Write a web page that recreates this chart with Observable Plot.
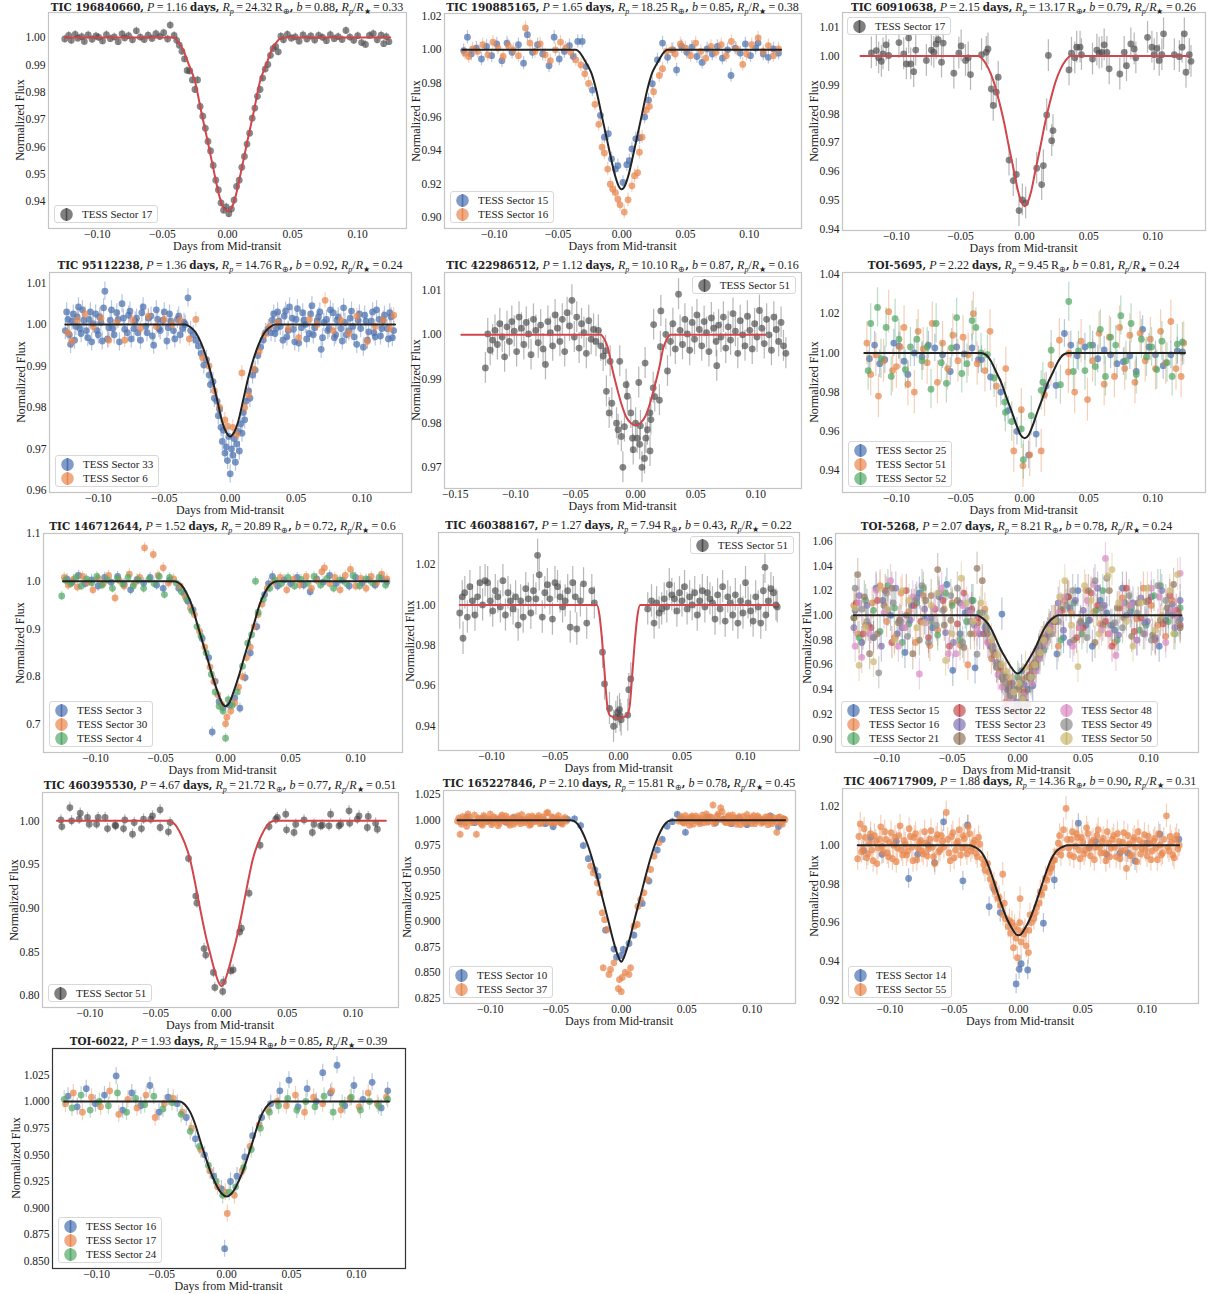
<!DOCTYPE html>
<html><head><meta charset="utf-8">
<script src="https://cdn.jsdelivr.net/npm/d3@7"></script>
<script src="https://cdn.jsdelivr.net/npm/@observablehq/plot@0.6"></script>
<style>
body{margin:0;background:#fff;}
#root{position:relative;width:1221px;height:1294px;overflow:hidden;font-family:"Liberation Serif","Times New Roman",serif;color:#222;background:#fff;}
.title{position:absolute;white-space:nowrap;font-size:12px;line-height:12px;transform:translateX(-50%);}
.title b{font-family:"DejaVu Serif";font-weight:bold;font-size:10.4px;}
.title i{font-style:italic;}
.title sub{font-size:8px;line-height:0;}
.xlab{position:absolute;white-space:nowrap;font-size:12px;transform:translate(-50%,-50%);}
.ylab{position:absolute;white-space:nowrap;font-size:12px;transform:translate(-50%,-50%) rotate(-90deg);}
.legend{position:absolute;background:rgba(255,255,255,0.85);border:1px solid #d8d8d8;border-radius:3px;padding:1px 5px 1px 5px;font-size:11px;}
.legend .grid{display:grid;grid-auto-flow:column;column-gap:14px;}
.legend .row{display:flex;align-items:center;height:14px;white-space:nowrap;}
.legend svg{margin-right:9px;}
</style></head>
<body><div id="root"></div>
<script>
// ---------- titles ----------
const names   = ["TIC 196840660","TIC 190885165","TIC 60910638","TIC 95112238","TIC 422986512","TOI-5695","TIC 146712644","TIC 460388167","TOI-5268","TIC 460395530","TIC 165227846","TIC 406717909","TOI-6022"];
const periods = ["1.16","1.65","2.15","1.36","1.12","2.22","1.52","1.27","2.07","4.67","2.10","1.88","1.93"];
const radii   = ["24.32","18.25","13.17","14.76","10.10","9.45","20.89","7.94","8.21","21.72","15.81","14.36","15.94"];
const impacts = ["0.88","0.85","0.79","0.92","0.87","0.81","0.72","0.43","0.78","0.77","0.78","0.90","0.85"];
const ratios  = ["0.33","0.38","0.26","0.24","0.16","0.24","0.6","0.22","0.24","0.51","0.45","0.31","0.39"];
const xTicks  = [-0.10,-0.05,0.00,0.05,0.10];
const xTicksWide = [-0.15,-0.10,-0.05,0.00,0.05,0.10];

// ---------- panel 1 : TIC 196840660 ----------
const p1_model=[[-.125,1],[-.042,1],[-.038,.9985],[-.034,.9955],[-.030,.9905],[-.025,.984],[-.020,.9725],[-.015,.9615],[-.010,.950],[-.006,.9415],[-.003,.9375],[0,.9365],[.003,.9375],[.006,.9415],[.010,.950],[.015,.9615],[.020,.9725],[.025,.984],[.030,.9905],[.034,.9955],[.038,.9985],[.042,1],[.125,1]];
const p1_s17=[[-.125,.9995],[-.122,1.0008],[-.120,.9990],[-.117,1.0012],[-.115,.9998],[-.112,1.0004],[-.110,.9986],[-.107,1.0010],[-.104,.9994],[-.101,1.0006],[-.099,1.0001],[-.096,.9988],[-.093,1.0011],[-.090,.9996],[-.087,1.0003],[-.084,.9985],[-.081,1.0014],[-.079,.9999],[-.076,1.0007],[-.073,.9992],[-.070,1.0025],[-.067,1.0002],[-.064,.9993],[-.061,1.0009],[-.058,.9997],[-.055,1.0015],[-.052,1.0004],[-.049,1.0018],[-.046,.9995],[-.044,1.0046],[-.041,1.0008],
[-.039,.9990],[-.037,.9972],[-.035,.9950],[-.033,.9922],[-.031,.9880],[-.029,.9878],[-.027,.9845],[-.025,.9810],[-.023,.9845],[-.021,.9748],[-.019,.9712],[-.017,.9668],[-.015,.9620],[-.013,.9585],[-.011,.9532],[-.009,.9478],[-.007,.9442],[-.005,.9395],[-.003,.9368],[-.001,.9380],[.001,.9355],[.003,.9372],[.005,.9405],[.007,.9455],[.009,.9478],[.011,.9525],[.013,.9565],[.015,.9610],[.017,.9650],[.019,.9705],[.021,.9742],[.023,.9785],[.025,.9810],[.027,.9852],[.029,.9885],[.031,.9902],[.033,.9935],[.035,.9960],[.037,.9968],[.039,.9948],
[.041,1.0005],[.043,.9992],[.046,1.0012],[.049,.9998],[.052,1.0003],[.055,.9987],[.058,1.0010],[.061,.9995],[.064,1.0006],[.067,.9991],[.070,1.0008],[.073,1.0001],[.076,.9989],[.079,1.0011],[.082,.9996],[.085,1.0004],[.088,.9993],[.091,1.0026],[.094,1.0002],[.097,.9990],[.100,1.0007],[.103,.9982],[.106,.9975],[.109,1.0008],[.112,1.0015],[.115,.9992],[.118,1.0009],[.120,.9978],[.122,1.0004],[.124,.9985]];

// ---------- panel 2 : TIC 190885165 ----------
const p2_model=[[-.125,1],[-.036,1],[-.033,.9985],[-.030,.995],[-.027,.991],[-.024,.9865],[-.020,.976],[-.016,.962],[-.012,.948],[-.008,.934],[-.005,.9245],[-.0025,.919],[0,.917],[.0025,.919],[.005,.9245],[.008,.934],[.012,.948],[.016,.962],[.020,.976],[.024,.9865],[.027,.991],[.030,.995],[.033,.9985],[.036,1],[.125,1]];
const p2_s15=[[-.124,.9995],[-.121,1.0075],[-.118,.9975],[-.114,1.0010],[-.110,.9945],[-.106,1.0020],[-.102,.9965],[-.098,1.0035],[-.094,.9935],[-.090,1.0040],[-.086,.9985],[-.081,1.0030],[-.077,.9920],[-.074,1.0090],[-.070,.9985],[-.066,1.0030],[-.062,.9975],[-.057,.9905],[-.053,1.0075],[-.049,.9945],[-.045,.9990],[-.041,1.0025],[-.038,.9960],[-.0345,1.0050],[-.031,1.0050],[-.028,.9900],
[-.023,.9760],[-.0167,.9610],[-.0136,.9480],[-.0105,.9500],[-.008,.9350],[-.005,.9290],[-.003,.9310],[.001,.9210],[.004,.9316],[.006,.9340],[.008,.9410],[.011,.9470],[.014,.9476],[.018,.9600],[.021,.9700],[.024,.9798],[.028,.9940],[.032,1.0040],
[.036,.9955],[.040,1.0000],[.043,.9880],[.047,1.0020],[.051,.9985],[.055,1.0015],[.059,.9960],[.063,.9925],[.067,1.0005],[.071,.9975],[.075,1.0020],[.079,.9950],[.083,1.0000],[.0857,.9847],[.089,1.0010],[.093,.9980],[.097,1.0035],[.101,.9965],[.105,1.0010],[.107,1.0040],[.111,.9975],[.115,.9955],[.119,1.0005],[.123,.9980]];
const p2_s16=[[-.123,.9980],[-.120,.9960],[-.117,1.0005],[-.113,.9990],[-.109,1.0030],[-.105,.9970],[-.101,1.0045],[-.097,1.0010],[-.093,.9960],[-.089,1.0025],[-.085,1.0000],[-.081,.9965],[-.0755,1.0130],[-.072,1.0040],[-.068,.9990],[-.064,1.0035],[-.060,.9970],[-.056,.9935],[-.052,1.0000],[-.048,1.0045],[-.044,1.0010],[-.040,.9985],[-.036,.9940],
[-.032,.9910],[-.029,.9857],[-.026,.9800],[-.021,.9675],[-.018,.9556],[-.0154,.9420],[-.0136,.9385],[-.011,.9290],[-.009,.9200],[-.007,.9170],[-.005,.9150],[-.003,.9110],[-.0013,.9077],[.002,.9034],[.005,.9107],[.008,.9190],[.010,.9250],[.0125,.9268],[.0139,.9390],[.016,.9480],[.019,.9640],[.0217,.9663],[.025,.9750],[.0295,.9847],[.032,.9887],
[.035,.9990],[.039,1.0000],[.042,.9975],[.046,1.0035],[.050,1.0010],[.054,.9965],[.058,1.0040],[.062,.9990],[.066,.9950],[.070,1.0020],[.074,.9985],[.078,1.0030],[.082,.9965],[.086,1.0050],[.090,1.0005],[.0949,.9913],[.098,.9975],[.102,1.0030],[.107,1.0070],[.111,.9990],[.115,1.0025],[.119,.9965],[.123,1.0005]];

// ---------- panel 3 : TIC 60910638 ----------
const p3_model=[[-.128,1],[-.036,1],[-.032,.9985],[-.028,.9955],[-.024,.991],[-.020,.9845],[-.016,.977],[-.012,.968],[-.008,.9595],[-.005,.953],[-.002,.949],[0,.948],[.002,.949],[.005,.953],[.008,.9595],[.012,.968],[.016,.977],[.020,.9845],[.024,.991],[.028,.9955],[.032,.9985],[.036,1],[.128,1]];
const p3_s17=[[-.1195,1.0011],[-.1156,1.0019],[-.1138,.9994],[-.1117,.9982],[-.1104,1.0008],[-.108,1.0039],[-.106,1.0002],[-.098,1.0047],[-.0943,1.0008],[-.0922,.9973],[-.0904,1.0063],[-.0888,.9973],[-.0865,.9946],[-.0849,1.0021],[-.0766,.9985],[-.0727,1.0021],[-.0708,1.0013],[-.069,1.0042],[-.0674,1.0057],[-.0648,.9979],[-.0635,1.0045],[-.0552,.9941],[-.0513,1.001],[-.0495,1.0035],[-.0461,.9985],[-.044,.9994],[-.0422,.9936],[-.0336,1.0005],[-.0299,1.0013],[-.0286,1.0025],[-.026,.9886],[-.0245,.9829],[-.0221,.9875],[-.0206,.9927],[-.0122,.964],[-.0089,.9569],[-.0065,.959],[-.0044,.9465],[-.0018,.9502],[.0008,.9492],[.0094,.9612],[.0133,.9555],[.0146,.9621],[.0172,.9796],[.0185,1.0002],[.0211,.9707],[.0221,.9742],[.0346,.9952],[.0365,1.001],[.0391,.9994],[.0406,1.0031],[.0432,1.0031],[.0443,1.0005],[.0529,.999],[.0563,1.0021],[.0581,1.001],[.0602,1.0013],[.062,1.0039],[.0641,1.0013],[.0659,.9956],[.0742,.9938],[.0776,1.0013],[.0794,.9967],[.0828,1.0042],[.0854,1.0025],[.0867,.9994],[.0958,1.0065],[.0992,1.0031],[.101,1.0005],[.1031,1.0027],[.1049,.9985],[.107,1.0005],[.1083,1.0077],[.1167,1.0005],[.1206,.9998],[.1227,1.0031],[.1245,1.0077],[.1258,.9944],[.1284,1.0005],[.1297,.9982]];

// ---------- panel 4 : TIC 95112238 ----------
const p4_model=[[-.125,1],[-.034,1],[-.030,.9993],[-.026,.998],[-.022,.9955],[-.018,.992],[-.014,.9875],[-.010,.982],[-.006,.9765],[-.003,.974],[0,.973],[.003,.974],[.006,.9765],[.010,.982],[.014,.9875],[.018,.992],[.022,.9955],[.026,.998],[.030,.9993],[.034,1],[.125,1]];
const p4_s33=[[-.125,.9985],[-.123,1.0012],[-.121,.9952],[-.119,1.0025],[-.117,.9995],[-.115,1.0042],[-.113,.9978],[-.111,1.0010],[-.108,.9968],[-.106,1.0030],[-.104,1.0002],[-.101,.9985],[-.099,1.0018],[-.097,.9960],[-.095,1.0080],[-.092,.9992],[-.090,1.0035],[-.088,.9975],[-.085,1.0012],[-.082,1.0050],[-.080,.9988],[-.077,1.0022],[-.075,.9965],[-.072,1.0008],[-.070,.9980],[-.067,1.0028],[-.064,.9995],[-.062,1.0015],[-.059,.9972],[-.056,1.0035],[-.054,.9990],[-.051,1.0010],[-.048,.9960],[-.046,1.0025],[-.043,.9985],[-.040,1.0012],[-.038,.9975],[-.035,1.0005],[-.032,1.0064],
[-.124,1.0030],[-.122,.9975],[-.120,1.0008],[-.118,.9962],[-.116,1.0018],[-.114,.9990],[-.112,1.0035],[-.109,.9985],[-.107,1.0012],[-.105,.9958],[-.102,1.0025],[-.100,.9975],[-.098,1.0005],[-.096,1.0040],[-.093,.9965],[-.091,1.0010],[-.089,.9990],[-.086,1.0028],[-.084,.9958],[-.081,1.0015],[-.078,.9980],[-.076,1.0032],[-.073,.9990],[-.071,1.0015],[-.068,.9962],[-.066,1.0042],[-.063,.9980],[-.060,1.0020],[-.058,.9950],[-.055,1.0012],[-.053,.9985],[-.050,1.0030],[-.047,.9992],[-.045,1.0008],[-.042,.9965],[-.039,1.0020],[-.036,.9990],[-.034,1.0000],
[-.030,.9985],[-.028,.9975],[-.026,.9962],[-.024,.9948],[-.022,.9930],[-.020,.9902],[-.018,.9915],[-.016,.9878],[-.015,.9855],[-.013,.9862],[-.012,.9822],[-.010,.9815],[-.009,.9780],[-.008,.9795],[-.007,.9752],[-.006,.9718],[-.005,.9745],[-.004,.9690],[-.003,.9705],[-.002,.9672],[-.001,.9730],[0,.9640],[.001,.9700],[.002,.9685],[.003,.9725],[.004,.9668],[.005,.9712],[.006,.9742],[.007,.9695],[.008,.9760],[.009,.9738],[.010,.9788],[.011,.9770],[.012,.9815],[.014,.9840],[.015,.9822],[.017,.9878],[.019,.9890],[.021,.9925],[.023,.9945],[.025,.9962],[.027,.9980],[.029,.9990],
[.032,1.0010],[.034,.9978],[.036,1.0030],[.038,.9995],[.041,1.0020],[.043,.9970],[.045,1.0042],[.048,.9988],[.050,1.0012],[.052,.9955],[.055,1.0028],[.057,1.0000],[.060,.9978],[.062,1.0045],[.064,.9992],[.067,1.0018],[.069,.9940],[.071,1.0005],[.074,.9985],[.076,1.0035],[.079,.9968],[.081,1.0010],[.084,.9990],[.086,1.0040],[.088,.9975],[.091,1.0015],[.093,.9995],[.096,.9952],[.098,1.0025],[.101,.9945],[.103,1.0008],[.105,.9982],[.108,1.0030],[.110,.9970],[.113,1.0012],[.115,.9990],[.117,1.0022],[.120,.9965],[.122,1.0018],[.124,.9985],
[.031,.9980],[.033,1.0025],[.035,.9990],[.037,1.0008],[.040,.9962],[.042,1.0032],[.044,.9985],[.047,1.0015],[.049,.9958],[.051,1.0038],[.054,.9992],[.056,1.0010],[.058,.9965],[.061,1.0025],[.063,.9975],[.066,1.0008],[.068,1.0030],[.070,.9968],[.073,1.0012],[.075,.9990],[.078,1.0028],[.080,.9975],[.082,1.0018],[.085,.9960],[.087,1.0005],[.090,.9985],[.092,1.0032],[.094,.9970],[.097,1.0010],[.099,.9990],[.102,1.0022],[.104,.9962],[.107,1.0008],[.109,.9980],[.111,1.0035],[.114,.9972],[.116,1.0010],[.119,.9990],[.121,1.0028],[.123,.9968]];
const p4_s6=[[-.123,.9980],[-.120,.9960],[-.116,1.0010],[-.110,1.0025],[-.104,.9995],[-.098,1.0015],[-.092,.9962],[-.086,1.0005],[-.080,.9962],[-.074,1.0010],[-.068,.9990],[-.062,1.0020],[-.056,.9995],[-.050,1.0012],[-.044,1.0000],[-.038,1.0010],[-.031,.9965],[-.026,1.0012],[-.021,.9920],[-.016,.9900],[-.012,.9840],[-.008,.9800],[-.004,.9770],[-.002,.9755],[.002,.9752],[.005,.9735],[.0089,.9883],[.011,.9800],[.014,.9830],[.018,.9892],[.022,.9935],[.026,.9975],[.030,.9995],[.036,1.0005],[.044,.9990],[.052,.9968],[.060,1.0012],[.066,1.0000],[.072,1.0058],[.078,.9985],[.084,1.0010],[.090,.9978],[.096,1.0020],[.104,.9959],[.110,.9995],[.116,1.0010],[.121,.9990],[.124,1.0022]];

// ---------- panel 5 : TIC 422986512 ----------
const p5_model=[[-.145,1],[-.029,1],[-.026,.999],[-.023,.997],[-.020,.993],[-.016,.9885],[-.012,.9845],[-.008,.9815],[-.004,.980],[0,.9795],[.004,.980],[.008,.9815],[.012,.9845],[.016,.9885],[.020,.993],[.023,.997],[.026,.999],[.029,1],[.108,1]];
const p5_s51=[[-.125,.9925],[-.123,1.0002],[-.121,.9965],[-.119,.9988],[-.117,1.0010],[-.115,.9978],[-.113,1.0025],[-.111,.9995],[-.109,.9950],[-.107,1.0018],[-.105,.9985],[-.103,1.0030],[-.101,1.0008],[-.099,.9962],[-.097,1.0040],[-.095,1.0015],[-.093,.9978],[-.091,1.0028],[-.089,1.0002],[-.087,.9955],[-.085,1.0035],[-.083,1.0010],[-.081,.9982],[-.079,1.0022],[-.077,.9968],[-.075,.9933],[-.073,1.0030],[-.071,1.0005],[-.069,.9975],[-.067,1.0045],[-.065,1.0015],[-.063,.9985],[-.061,1.0035],[-.059,.9962],[-.057,1.0050],[-.055,1.0020],[-.053,1.0078],[-.051,.9995],[-.049,1.0040],[-.047,.9970],[-.045,1.0025],[-.043,1.0005],[-.041,.9958],[-.039,1.0032],[-.037,.9990],[-.035,1.0012],[-.033,.9985],[-.031,1.0010],[-.029,.9975],[-.027,.9952],[-.025,.9964],
[-.0243,.9872],[-.022,.9823],[-.0212,.9940],[-.0198,.9845],[-.0159,.9800],[-.0146,.9785],[-.0132,.9940],[-.0119,.9770],[-.0106,.9700],[-.0093,.9792],[-.0079,.9887],[-.0069,.9861],[-.004,.9823],[-.0026,.9766],[-.002,.9740],[0,.9800],[.0013,.9766],[.0026,.9892],[.0034,.9752],[.004,.9794],[.0053,.9700],[.0074,.9720],[.0079,.9936],[.0085,.9766],[.0098,.9785],[.0119,.9823],[.012,.9737],[.0127,.9808],[.0146,.9880],[.0150,1.0023],[.0159,.9860],[.0198,.9852],[.0206,.9973],[.0210,1.0054],[.0251,1.0001],[.0265,.9918],
[.029,.9985],[.031,1.0025],[.033,.9968],[.0357,1.0092],[.037,1.0010],[.039,.9978],[.041,1.0035],[.043,1.0002],[.045,.9965],[.047,1.0028],[.049,.9990],[.051,1.0045],[.053,1.0012],[.055,.9975],[.057,1.0030],[.059,1.0005],[.061,.9962],[.063,1.0038],[.065,1.0015],[.067,.9985],[.0675,.9930],[.069,1.0022],[.071,.9995],[.073,1.0040],[.075,.9970],[.077,1.0018],[.079,.9988],[.081,1.0048],[.083,1.0008],[.085,.9958],[.087,1.0032],[.089,1.0000],[.091,.9975],[.093,1.0042],[.095,1.0010],[.097,.9968],[.099,1.0025],[.101,.9995],[.103,1.0055],[.105,1.0015],[.107,.9980],[.109,1.0035],[.111,1.0000],[.113,.9965],[.115,1.0040],[.117,1.0012],[.119,.9985],[.121,1.0028],[.123,.9975],[.125,.9958]];

// ---------- panel 6 : TOI-5695 ----------
const p6_model=[[-.125,1],[-.034,1],[-.030,.999],[-.026,.9955],[-.022,.990],[-.018,.9845],[-.014,.977],[-.010,.970],[-.006,.9625],[-.003,.958],[0,.9565],[.003,.958],[.006,.9625],[.010,.970],[.014,.977],[.018,.9845],[.022,.990],[.026,.9955],[.030,.999],[.034,1],[.125,1]];
const p6_s25=[[-.121,.9970],[-.117,1.0040],[-.113,.9945],[-.109,.9965],[-.102,1.0050],[-.098,1.0035],[-.094,.9958],[-.091,.9890],[-.086,1.0000],[-.080,.9980],[-.075,1.0040],[-.070,1.0025],[-.064,.9990],[-.058,.9905],[-.053,1.0030],[-.047,.9995],[-.041,1.0025],[-.036,.9965],[-.0336,.9966],[-.0266,.9877],[-.0186,.9800],[-.0129,.9706],[-.006,.9600],[.0031,.9479],[.009,.9586],[.0168,.9831],[.0245,.9834],[.031,1.0099],[.036,1.0040],[.041,.9985],[.047,1.0030],[.053,1.0040],[.057,.9970],[.062,1.0015],[.067,.9990],[.072,.9945],[.077,.9955],[.082,.9985],[.087,.9905],[.092,1.0120],[.097,1.0030],[.102,.9990],[.108,.9935],[.114,.9990],[.119,1.0010],[.123,1.0005]];
const p6_s51=[[-.123,1.0050],[-.120,.9890],[-.116,.9990],[-.114,.9780],[-.110,.9960],[-.106,1.0210],[-.103,.9910],[-.100,.9930],[-.097,1.0030],[-.094,1.0130],[-.091,.9840],[-.086,.9800],[-.083,1.0110],[-.079,1.0020],[-.076,.9950],[-.072,1.0150],[-.068,.9850],[-.064,1.0050],[-.060,.9920],[-.056,1.0090],[-.052,.9960],[-.048,1.0080],[-.044,.9990],[-.040,1.0200],[-.037,.9945],[-.031,.9910],[-.027,1.0110],[-.022,.9830],[-.0147,.9920],[-.0085,.9500],[-.0026,.9710],[-.0013,.9424],[.004,.9480],[.0129,.9500],[.0155,.9786],[.0205,.9940],[.0271,1.0065],[.0341,.9903],[.0345,.9997],[.039,.9800],[.044,1.0060],[.049,.9762],[.053,.9960],[.058,1.0100],[.062,.9840],[.066,1.0080],[.070,.9880],[.074,1.0130],[.078,.9920],[.082,1.0090],[.086,.9850],[.090,1.0100],[.094,.9960],[.098,1.0070],[.102,.9920],[.106,1.0110],[.110,.9950],[.114,1.0160],[.118,.9920],[.122,.9880],[.124,1.0050]];
const p6_s52=[[-.122,.9910],[-.120,1.0150],[-.1147,1.0232],[-.112,.9970],[-.108,1.0130],[-.104,.9880],[-.101,1.0175],[-.098,1.0070],[-.093,.9915],[-.089,1.0030],[-.084,1.0070],[-.080,.9960],[-.076,1.0030],[-.073,.9815],[-.069,1.0150],[-.065,.9950],[-.061,.9845],[-.057,1.0025],[-.053,1.0180],[-.049,.9895],[-.045,.9945],[-.041,1.0165],[-.038,1.0130],[-.034,1.0000],[-.029,.9991],[-.0238,.9872],[-.0155,.9749],[-.0150,.9697],[-.010,.9650],[-.0026,.9612],[-.001,.9455],[.0052,.9680],[.0129,.9809],[.0142,.9851],[.0207,1.0014],[.0279,.9838],[.0344,1.0262],[.038,.9905],[.042,1.0010],[.047,.9910],[.051,1.0040],[.055,.9930],[.059,1.0120],[.063,.9880],[.067,1.0080],[.071,1.0040],[.075,1.0190],[.079,.9960],[.083,1.0150],[.087,.9890],[.091,1.0070],[.095,.9980],[.099,1.0030],[.103,.9915],[.107,1.0060],[.111,.9950],[.115,.9880],[.119,1.0045],[.123,1.0055]];

// ---------- panel 7 : TIC 146712644 ----------
const p7_model=[[-.125,1],[-.040,1],[-.037,.998],[-.034,.992],[-.030,.975],[-.026,.950],[-.022,.912],[-.018,.875],[-.014,.838],[-.010,.800],[-.006,.767],[-.003,.746],[0,.738],[.003,.746],[.006,.767],[.010,.800],[.014,.838],[.018,.875],[.022,.912],[.026,.950],[.030,.975],[.034,.992],[.037,.998],[.040,1],[.125,1]];
const p7_s3=[[-.122,1.005],[-.118,.998],[-.113,1.012],[-.108,.995],[-.103,1.003],[-.098,.990],[-.093,1.008],[-.088,.998],[-.083,1.010],[-.078,.994],[-.073,.982],[-.068,1.004],[-.063,.996],[-.058,1.008],[-.053,.992],[-.048,.985],[-.043,1.002],[-.036,.985],[-.032,.975],[-.029,.958],[-.025,.940],[-.018,.880],[-.013,.840],[-.0103,.684],[-.008,.790],[-.005,.748],[-.002,.735],[.003,.740],[.007,.755],[.011,.734],[.015,.798],[.019,.850],[.024,.905],[.030,.972],[.033,.995],[.036,1.010],[.040,.990],[.045,1.003],[.050,.995],[.055,1.008],[.060,.992],[.065,.978],[.070,1.005],[.075,.998],[.080,1.012],[.085,.995],[.090,1.002],[.095,.990],[.100,1.008],[.105,.996],[.110,1.004],[.115,.992],[.120,1.006],[.124,.999]];
const p7_s30=[[-.124,1.008],[-.121,.992],[-.117,1.004],[-.114,.988],[-.110,1.010],[-.106,.998],[-.102,.982],[-.098,1.006],[-.094,.995],[-.090,1.012],[-.085,.965],[-.082,1.002],[-.078,.990],[-.074,1.015],[-.070,.996],[-.066,1.008],[-.0623,1.070],[-.0556,1.056],[-.052,1.012],[-.048,1.028],[-.044,.996],[-.040,1.005],[-.035,.990],[-.031,.968],[-.027,.944],[-.024,.930],[-.020,.895],[-.016,.862],[-.012,.820],[-.009,.790],[-.006,.762],[-.003,.742],[0,.701],[.001,.715],[.004,.728],[.007,.745],[.010,.778],[.013,.800],[.016,.840],[.019,.862],[.022,.905],[.025,.930],[.028,.952],[.032,.985],[.037,.998],[.042,1.008],[.047,.982],[.052,1.004],[.057,.992],[.062,1.010],[.066,.985],[.070,1.002],[.074,1.020],[.076,1.028],[.080,.995],[.084,1.008],[.088,.982],[.092,1.012],[.096,1.025],[.100,.990],[.104,1.006],[.108,.985],[.112,1.010],[.116,.996],[.120,1.015],[.124,1.005]];
const p7_s4=[[-.126,.969],[-.123,1.002],[-.119,.995],[-.115,1.008],[-.111,.990],[-.107,1.005],[-.103,.997],[-.099,1.010],[-.095,.992],[-.091,1.003],[-.087,.985],[-.083,1.006],[-.079,.994],[-.075,1.008],[-.071,.990],[-.067,1.002],[-.063,.985],[-.059,1.004],[-.055,.995],[-.051,1.010],[-.047,.972],[-.043,1.008],[-.038,.996],[-.034,.978],[-.030,.962],[-.026,.938],[-.022,.905],[-.019,.885],[-.015,.850],[-.011,.805],[-.008,.768],[-.005,.738],[-.002,.728],[0,.671],[.002,.752],[.005,.740],[.009,.768],[.013,.822],[.017,.870],[.020,.888],[.023,1.000],[.025,.935],[.029,.962],[.034,.985],[.038,1.002],[.043,.995],[.048,1.008],[.053,.990],[.058,1.004],[.063,.996],[.068,1.010],[.073,.992],[.078,1.006],[.083,.985],[.088,1.003],[.093,.995],[.098,1.012],[.103,.990],[.108,1.005],[.113,.996],[.118,1.008],[.123,.992]];

// ---------- panel 8 : TIC 460388167 ----------
const p8_model=[[-.125,1],[-.017,1],[-.015,.995],[-.013,.983],[-.011,.967],[-.009,.951],[-.007,.9455],[-.004,.9445],[0,.944],[.004,.9445],[.007,.9455],[.009,.951],[.011,.967],[.013,.983],[.015,.995],[.017,1],[.125,1]];
const p8_s51=[[-.125,.996],[-.123,1.004],[-.121,1.006],[-.1224,.9835],[-.119,.994],[-.117,1.009],[-.115,1.002],[-.113,.995],[-.111,1.004],[-.109,1.011],[-.107,1.000],[-.105,1.012],[-.103,1.011],[-.101,1.002],[-.099,.997],[-.097,1.007],[-.095,1.004],[-.093,.999],[-.091,1.012],[-.089,.995],[-.087,1.006],[-.085,1.002],[-.083,.998],[-.081,1.004],[-.079,.990],[-.077,1.002],[-.075,.994],[-.073,1.008],[-.071,1.003],[-.069,.996],[-.067,1.007],[-.065,1.003],[-.0637,1.0245],[-.0624,1.0149],[-.060,.994],[-.058,1.006],[-.056,1.010],[-.054,1.003],[-.052,.993],[-.050,1.011],[-.048,1.009],[-.046,1.004],[-.044,.999],[-.042,1.002],[-.040,1.007],[-.038,.989],[-.036,1.011],[-.034,1.004],[-.0328,.9881],[-.030,1.002],[-.0275,1.0104],[-.025,.991],[-.021,1.007],[-.019,1.001],
[-.0126,.9766],[-.011,.9609],[-.0071,.9488],[-.0039,.9400],[-.0021,.9444],[-.0008,.9469],[.0008,.9482],[.0013,.9452],[.0021,.9432],[.0073,.9455],[.0081,.9581],[.0097,.9634],
[.023,.998],[.026,1.002],[.028,.991],[.030,1.001],[.032,.996],[.034,.998],[.036,1.003],[.038,.999],[.040,1.010],[.042,1.005],[.044,1.003],[.046,.997],[.048,1.006],[.050,1.002],[.052,1.009],[.054,.998],[.056,1.004],[.058,1.000],[.060,1.006],[.062,.995],[.064,1.002],[.066,1.007],[.068,.999],[.070,1.006],[.072,1.003],[.074,1.001],[.076,.993],[.078,1.005],[.080,.998],[.082,1.009],[.084,.992],[.086,1.004],[.088,1.001],[.090,.995],[.092,1.005],[.094,.991],[.096,1.002],[.098,.996],[.100,1.011],[.102,1.001],[.104,.997],[.106,.992],[.108,1.004],[.110,.999],[.112,.991],[.1153,1.0186],[.114,1.007],[.116,.995],[.118,1.002],[.120,1.008],[.122,1.006],[.124,1.000],[.125,.999]];

// ---------- panel 9 : TOI-5268 ----------
const p9_model=[[-.125,1],[-.031,1],[-.028,.9985],[-.025,.996],[-.021,.9905],[-.017,.982],[-.013,.9725],[-.009,.965],[-.005,.958],[-.002,.954],[0,.953],[.002,.954],[.005,.958],[.009,.965],[.013,.9725],[.017,.982],[.021,.9905],[.025,.996],[.028,.9985],[.031,1],[.125,1]];
const p9_s15=[[-.124,1.004],[-.114,.992],[-.103,1.012],[-.092,.985],[-.081,1.008],[-.071,.997],[-.060,1.015],[-.0495,.9555],[-.040,1.002],[-.0325,.9575],[-.024,.988],[-.012,1.001],[-.010,.925],[-.004,.945],[.003,.955],[.008,.940],[.0115,.943],[.022,.982],[.030,.9688],[.040,1.006],[.052,.992],[.063,1.012],[.074,.988],[.086,1.003],[.097,.994],[.108,.975],[.118,1.009],[.124,.997],
[-.119,.978],[-.108,1.022],[-.097,1.000],[-.086,.970],[-.075,1.018],[-.065,.990],[-.054,1.025],[-.044,.985],[-.035,1.012],[-.018,.970],[-.006,.938],[.006,.930],[.016,.965],[.035,.982],[.046,1.020],[.057,.975],[.068,1.002],[.080,1.022],[.091,.980],[.102,1.015],[.113,.996]];
const p9_s16=[[-.122,.985],[-.111,1.010],[-.100,.995],[-.089,1.018],[-.078,.978],[-.067,.9755],[-.056,1.005],[-.044,.976],[-.038,.960],[-.030,.994],[-.020,.965],[-.013,.955],[-.006,.935],[-.002,.922],[.004,.948],[.010,.958],[.018,.978],[.027,.995],[.036,1.012],[.047,.990],[.058,1.003],[.069,.985],[.080,1.014],[.091,.997],[.102,1.008],[.113,.983],[.123,1.002],
[-.125,1.008],[-.116,.992],[-.105,1.024],[-.094,.982],[-.083,1.003],[-.072,1.016],[-.061,.988],[-.050,1.010],[-.033,.985],[-.025,1.005],[-.016,.958],[-.009,.930],[.001,.940],[.007,.925],[.014,.962],[.023,.985],[.031,.975],[.041,1.002],[.052,1.020],[.063,.993],[.074,.978],[.085,1.008],[.096,1.022],[.107,.992],[.118,1.012]];
const p9_s21=[[-.125,.998],[-.116,1.012],[-.105,.987],[-.094,1.006],[-.083,.993],[-.072,1.022],[-.061,.984],[-.050,1.008],[-.039,.995],[-.029,1.002],[-.021,.975],[-.014,.960],[-.007,.942],[0,.950],[.006,.938],[.013,.962],[.020,.972],[.029,.998],[.038,1.015],[.049,.985],[.060,1.004],[.071,.992],[.082,1.010],[.093,.988],[.104,1.016],[.115,.995],[.124,1.006],
[-.121,.982],[-.110,1.004],[-.099,1.024],[-.088,.978],[-.077,1.010],[-.066,.995],[-.055,1.018],[-.044,.980],[-.034,1.012],[-.024,.992],[-.011,.952],[-.003,.935],[.003,.945],[.010,.948],[.017,.975],[.024,.992],[.033,.980],[.043,1.010],[.054,.996],[.065,1.020],[.076,.980],[.087,1.006],[.098,.992],[.109,1.024],[.120,.985]];
const p9_s22=[[-.123,1.010],[-.112,.990],[-.101,1.020],[-.090,.996],[-.079,1.008],[-.068,.982],[-.057,1.012],[-.046,.993],[-.035,1.005],[-.026,.985],[-.018,.968],[-.009,.950],[-.003,.940],[.002,.925],[.009,.952],[.016,.970],[.025,.990],[.034,1.004],[.045,.982],[.056,1.018],[.067,.995],[.078,1.006],[.089,.987],[.100,1.012],[.111,.993],[.121,1.004],
[-.118,.985],[-.107,1.012],[-.096,.978],[-.085,1.020],[-.074,.995],[-.063,1.005],[-.052,.975],[-.041,1.018],[-.030,.998],[-.022,.978],[-.013,.958],[-.006,.945],[.005,.938],[.012,.960],[.020,.982],[.029,.995],[.039,1.015],[.050,.990],[.061,1.008],[.072,.975],[.083,1.022],[.094,.998],[.105,.980],[.116,1.016],[.124,.992]];
const p9_s23=[[-.121,1.016],[-.110,.982],[-.099,1.004],[-.088,.990],[-.077,1.014],[-.066,.998],[-.055,.986],[-.044,1.010],[-.033,.992],[-.025,.990],[-.016,.962],[-.008,.940],[-.001,.930],[.005,.944],[.012,.955],[.019,.975],[.026,.995],[.035,.988],[.044,1.012],[.055,.996],[.066,1.008],[.077,.984],[.088,1.010],[.099,.995],[.110,1.020],[.120,.990],
[-.125,.990],[-.115,1.008],[-.104,.975],[-.093,1.022],[-.082,.996],[-.071,1.005],[-.060,1.018],[-.049,.978],[-.038,1.004],[-.029,.985],[-.020,.975],[-.012,.950],[-.004,.940],[.002,.928],[.009,.950],[.016,.972],[.023,.985],[.031,1.010],[.040,.978],[.050,1.004],[.061,1.022],[.072,.992],[.083,1.000],[.094,1.014],[.105,.982],[.115,1.002],[.124,1.012]];
const p9_s41=[[-.122,1.033],[-.113,.969],[-.102,1.008],[-.091,.994],[-.080,.969],[-.070,1.012],[-.061,1.037],[-.051,.996],[-.041,.974],[-.031,1.038],[-.027,1.028],[-.019,.972],[-.011,.948],[-.005,.935],[.001,.942],[.007,.950],[.015,.965],[.024,.988],[.033,1.005],[.043,.980],[.054,1.020],[.065,.992],[.076,1.006],[.087,.983],[.098,1.011],[.109,.996],[.119,1.025],
[-.125,.998],[-.117,1.015],[-.107,.985],[-.096,1.022],[-.085,1.000],[-.075,.980],[-.066,1.016],[-.056,.992],[-.046,1.012],[-.036,.985],[-.023,.985],[-.015,.960],[-.008,.942],[-.002,.925],[.004,.932],[.011,.955],[.019,.978],[.028,.995],[.038,1.015],[.048,.995],[.059,.978],[.070,1.020],[.081,.998],[.092,1.010],[.103,.984],[.114,1.006],[.124,.990]];
const p9_s48=[[-.124,.975],[-.119,.966],[-.108,1.020],[-.097,1.028],[-.086,.990],[-.075,.9525],[-.064,1.006],[-.053,.969],[-.047,.969],[-.036,1.002],[-.023,.978],[-.015,.952],[-.009,.925],[-.004,.935],[.003,.910],[.008,.928],[.014,.955],[.021,.978],[.031,1.002],[.042,.975],[.053,1.012],[.064,.988],[.067,1.046],[.075,.9675],[.086,1.008],[.097,.985],[.108,1.015],[.118,1.004],[.124,1.034],
[-.121,1.010],[-.113,.985],[-.102,1.002],[-.091,.975],[-.080,1.015],[-.070,.994],[-.058,1.022],[-.042,1.008],[-.031,.988],[-.019,.975],[-.012,.942],[-.006,.930],[-.001,.918],[.005,.935],[.011,.945],[.017,.965],[.025,.990],[.036,1.015],[.047,.990],[.058,1.025],[.070,.985],[.080,1.010],[.091,.980],[.102,1.022],[.113,.978],[.121,1.000]];
const p9_s49=[[-.124,1.022],[-.115,.995],[-.106,.9535],[-.095,1.010],[-.084,.983],[-.073,1.024],[-.062,.992],[-.051,1.016],[-.042,.978],[-.031,.9685],[-.023,.990],[-.016,.958],[-.009,.945],[-.002,.940],[.004,.933],[.011,.950],[.017,.968],[.026,.985],[.037,1.008],[.048,.994],[.059,1.028],[.068,1.030],[.080,.990],[.091,1.002],[.102,.980],[.113,1.012],[.123,.995],
[-.119,1.005],[-.110,.982],[-.100,1.018],[-.089,.995],[-.078,1.012],[-.068,.978],[-.057,1.004],[-.046,1.022],[-.036,.995],[-.027,1.002],[-.019,.975],[-.012,.950],[-.005,.935],[.001,.948],[.007,.928],[.014,.958],[.021,.980],[.031,.995],[.042,1.020],[.053,.982],[.064,1.006],[.074,.994],[.085,1.016],[.096,.985],[.107,1.024],[.118,1.000]];
const p9_s50=[[-.121,.9595],[-.110,.9625],[-.099,1.005],[-.088,1.020],[-.077,.990],[-.066,1.008],[-.055,.9635],[-.043,1.030],[-.034,.995],[-.028,1.010],[-.020,.980],[-.012,.960],[-.006,.950],[.001,.945],[.006,.958],[.013,.960],[.020,.980],[.028,.996],[.036,1.028],[.046,.9585],[.056,1.012],[.069,1.032],[.072,1.037],[.083,.995],[.094,1.010],[.105,.988],[.116,1.020],[.122,1.033],
[-.124,1.006],[-.116,.990],[-.105,1.022],[-.094,.980],[-.083,1.012],[-.072,.994],[-.061,1.018],[-.050,.985],[-.039,1.010],[-.024,.998],[-.016,.968],[-.009,.955],[-.003,.938],[.004,.932],[.010,.950],[.017,.970],[.024,.988],[.032,1.015],[.041,.992],[.051,1.024],[.062,.985],[.077,1.010],[.088,.975],[.099,1.022],[.110,1.000],[.119,.985]];

// ---------- panel 10 : TIC 460395530 ----------
const p10_model=[[-.125,1],[-.041,1],[-.038,.999],[-.035,.9955],[-.032,.988],[-.028,.975],[-.024,.957],[-.020,.929],[-.016,.898],[-.012,.869],[-.008,.845],[-.005,.828],[-.002,.815],[0,.811],[.002,.815],[.005,.828],[.008,.845],[.012,.869],[.016,.898],[.020,.929],[.024,.957],[.028,.975],[.032,.988],[.035,.9955],[.038,.999],[.041,1],[.125,1]];
const p10_s51=[[-.122,1.0011],[-.1213,.9935],[-.1152,1.0152],[-.1139,1.0],[-.1081,1.0019],[-.1073,1.0088],[-.1018,1.0038],[-.1005,.9962],[-.0949,.9962],[-.0937,1.0038],[-.0884,1.0038],[-.0866,.9912],[-.0808,.995],[-.0803,.9943],[-.0744,.9912],[-.0734,1.0011],[-.0676,.9848],[-.0663,.9981],[-.0608,.9912],[-.0592,1.0019],[-.0537,1.0019],[-.0524,1.0057],[-.0466,1.0126],[-.0466,.9924],[-.0403,.9874],[-.039,.9981],
[-.025,.957],[-.0195,.914],[-.0187,.906],[-.0132,.854],[-.0119,.8465],[-.0061,.8267],[-.005,.8095],[.001,.805],[.0015,.816],[.0071,.8286],[.0089,.8297],[.0139,.873],[.0152,.8773],[.021,.9173],[.0294,.9722],
[.0362,.9935],[.0413,1.0019],[.0425,1.0038],[.0489,1.0076],[.0495,.9897],[.0552,.9867],[.0565,.9962],[.0628,1.0011],[.0691,.9867],[.0704,.9962],[.0754,.9943],[.0767,.995],[.0818,.9943],[.083,1.0076],[.0894,.9943],[.0906,.9962],[.097,1.0114],[.0975,.9973],[.1033,1.0019],[.1046,1.0057],[.1109,.9924],[.1116,1.005],[.1172,.9973],[.1185,.9905]];

// ---------- panel 11 : TIC 165227846 ----------
const p11_model=[[-.125,1],[-.039,1],[-.036,.999],[-.033,.9955],[-.030,.989],[-.026,.977],[-.022,.961],[-.018,.942],[-.014,.9215],[-.010,.9015],[-.008,.891],[-.006,.881],[-.004,.872],[-.002,.8645],[0,.8605],[.002,.8645],[.004,.872],[.006,.881],[.008,.891],[.010,.9015],[.014,.9215],[.018,.942],[.022,.961],[.026,.977],[.030,.989],[.033,.9955],[.036,.999],[.039,1],[.125,1]];
const p11_s10=[[-.123,.9985],[-.118,1.0030],[-.112,.9975],[-.106,1.0015],[-.100,.9995],[-.094,1.0005],[-.088,.9980],[-.082,1.0025],[-.076,1.0002],[-.070,.9990],[-.064,1.0018],[-.058,.9965],[-.052,.9935],[-.046,.9975],[-.041,1.0008],[-.0357,1.0013],[-.031,.9947],
[-.029,.9750],[-.0252,.9620],[-.0201,.9510],[-.0178,.9448],[-.012,.8916],[-.0056,.8730],[-.0036,.8650],[0,.8667],[.0015,.8726],[.0059,.8785],[.0097,.8867],[.016,.9180],[.0212,.9400],[.0275,.9705],[.0313,.9810],[.035,.9940],
[.039,.9985],[.0428,1.0056],[.046,1.0010],[.049,.9880],[.054,1.0020],[.060,.9990],[.066,1.0030],[.072,.9975],[.078,1.0008],[.084,.9965],[.090,1.0020],[.096,.9955],[.102,1.0000],[.108,.9990],[.114,1.0040],[.120,.9935],[.124,1.0010]];
const p11_s37=[[-.125,.9990],[-.123,.9860],[-.121,1.0035],[-.119,.9975],[-.117,1.0060],[-.115,.9995],[-.1106,.9860],[-.109,1.0020],[-.107,.9965],[-.105,1.0045],[-.103,.9985],[-.101,1.0010],[-.099,.9955],[-.097,1.0030],[-.095,1.0000],[-.093,.9970],[-.091,1.0050],[-.089,.9990],[-.087,1.0015],[-.085,.9950],[-.083,1.0025],[-.081,.9985],[-.079,1.0040],[-.077,.9965],[-.075,1.0005],[-.073,.9990],[-.071,1.0035],[-.069,.9960],[-.067,1.0020],[-.065,.9995],[-.063,1.0045],[-.061,.9975],[-.059,1.0010],[-.057,1.0070],[-.055,.9985],[-.053,1.0030],[-.051,.9970],[-.049,1.0015],[-.047,1.0000],[-.045,.9960],[-.043,1.0025],
[-.124,1.0020],[-.122,.9960],[-.120,1.0005],[-.118,.9940],[-.116,1.0030],[-.114,.9975],[-.112,1.0050],[-.110,.9985],[-.108,1.0010],[-.106,.9950],[-.104,1.0025],[-.102,.9990],[-.100,1.0060],[-.098,.9975],[-.096,1.0015],[-.094,.9945],[-.092,1.0030],[-.090,.9995],[-.088,1.0040],[-.086,.9970],[-.084,1.0005],[-.082,.9960],[-.080,1.0020],[-.078,.9990],[-.076,1.0055],[-.074,.9975],[-.072,1.0010],[-.070,.9950],[-.068,1.0040],[-.066,.9985],[-.064,1.0020],[-.062,.9965],[-.060,1.0030],[-.058,.9990],[-.056,1.0075],[-.054,.9970],[-.052,1.0025],[-.050,.9985],[-.048,1.0045],[-.046,.9975],[-.044,1.0010],[-.042,.9990],
[-.0234,.9547],[-.0214,.9480],[-.0183,.9380],[-.0163,.9284],[-.0145,.9087],[-.0138,.8545],[-.0127,.9020],[-.0107,.8923],[-.0094,.8480],[-.0082,.8530],[-.0056,.8595],[-.0022,.8340],[-.0014,.8430],[0,.8310],[.0008,.8450],[.003,.8500],[.0059,.8480],[.0071,.8545],[.0097,.8955],[.0122,.8972],[.0127,.9150],[.0148,.9218],[.0173,.9284],[.0199,.9415],[.0224,.9514],[.025,.9645],[.0288,.9777],
[.044,.9990],[.046,1.0035],[.048,.9970],[.050,1.0015],[.052,.9950],[.054,1.0040],[.056,.9995],[.058,1.0020],[.060,.9965],[.062,1.0050],[.064,1.0005],[.066,.9980],[.068,1.0030],[.070,1.0148],[.072,.9990],[.074,1.0060],[.0759,1.0121],[.078,1.0010],[.080,.9975],[.082,1.0045],[.084,.9985],[.086,1.0020],[.088,.9960],[.090,1.0035],[.092,1.0000],[.094,.9970],[.096,1.0055],[.098,.9990],[.100,1.0025],[.102,.9965],[.104,1.0040],[.106,1.0005],[.108,.9980],[.110,1.0030],[.112,.9955],[.114,1.0015],[.116,.9990],[.1187,.9880],[.120,1.0025],[.122,.9975],[.124,1.0010],
[.045,1.0015],[.047,.9980],[.049,1.0045],[.051,.9990],[.053,1.0025],[.055,.9960],[.057,1.0040],[.059,.9985],[.061,1.0015],[.063,.9975],[.065,1.0060],[.067,.9990],[.069,1.0025],[.071,.9965],[.073,1.0040],[.075,1.0005],[.077,1.0080],[.079,.9985],[.081,1.0030],[.083,.9970],[.085,1.0050],[.087,.9990],[.089,1.0015],[.091,.9955],[.093,1.0035],[.095,.9985],[.097,1.0020],[.099,.9965],[.101,1.0045],[.103,.9990],[.105,1.0025],[.107,.9970],[.109,1.0010],[.111,.9990],[.113,1.0040],[.115,.9965],[.117,1.0020],[.119,.9980],[.121,1.0030],[.123,.9960],[.125,1.0005]];

// ---------- panel 12 : TIC 406717909 ----------
const p12_model=[[-.125,1],[-.038,1],[-.035,.9993],[-.032,.9983],[-.029,.9965],[-.025,.992],[-.021,.985],[-.017,.977],[-.013,.969],[-.009,.962],[-.005,.957],[-.002,.954],[0,.9535],[.002,.954],[.005,.957],[.009,.962],[.013,.969],[.017,.977],[.021,.985],[.025,.992],[.029,.9965],[.032,.9983],[.035,.9993],[.038,1],[.125,1]];
const p12_s14=[[-.1203,.9971],[-.115,1.0040],[-.1061,.9953],[-.095,1.0020],[-.0854,.9828],[-.0784,.9953],[-.070,1.0000],[-.0652,.991],[-.0582,1.0121],[-.0432,.9816],[-.0396,1.0105],[-.0228,.9683],[-.0189,.9772],[-.0142,.9652],[-.0018,.9283],[.0005,.9359],[.0021,.9388],[.0072,.9355],[.0194,.9597],[.0279,.9821],[.0466,1.0114],[.055,.9990],[.060,1.0020],[.0686,.9953],[.0789,.9959],[.085,.9960],[.0906,.9919],[.100,1.0010],[.11,1.0057],[.1247,1.0031]];
const p12_s55=[[-.125,.9930],[-.123,1.0110],[-.121,.9980],[-.119,1.0040],[-.117,.9955],[-.115,1.0060],[-.113,.9920],[-.111,1.0020],[-.109,.9985],[-.107,1.0095],[-.105,.9965],[-.103,1.0030],[-.101,.9940],[-.099,1.0065],[-.097,1.0000],[-.095,.9915],[-.093,1.0050],[-.091,.9975],[-.089,1.0025],[-.087,.9950],[-.085,1.0085],[-.083,.9990],[-.081,1.0040],[-.079,.9925],[-.077,1.0015],[-.075,.9970],[-.073,1.0070],[-.071,.9945],[-.069,1.0030],[-.067,.9990],[-.065,.9905],[-.063,1.0055],[-.061,.9975],[-.059,1.0020],[-.0561,1.0169],[-.054,.9960],[-.052,1.0045],[-.050,.9935],[-.048,1.0010],[-.046,1.0080],[-.044,.9985],[-.042,1.0035],[-.040,.9955],[-.038,1.0060],[-.036,.9990],[-.034,1.0025],[-.032,.9940],[-.030,1.0005],
[-.124,1.0045],[-.122,.9965],[-.120,1.0085],[-.118,.9935],[-.116,1.0010],[-.114,.9975],[-.112,1.0050],[-.110,.9905],[-.108,1.0030],[-.106,.9995],[-.104,1.0070],[-.102,.9960],[-.100,1.0015],[-.098,.9930],[-.096,1.0040],[-.094,.9985],[-.092,1.0100],[-.090,.9950],[-.088,1.0005],[-.086,.9970],[-.084,1.0045],[-.082,.9920],[-.080,1.0060],[-.078,.9985],[-.076,1.0025],[-.074,.9955],[-.072,1.0010],[-.070,.9980],[-.068,1.0075],[-.066,.9940],[-.064,1.0035],[-.062,.9965],[-.060,1.0050],[-.058,.9990],[-.055,1.0030],[-.053,.9920],[-.051,1.0065],[-.049,.9975],[-.047,1.0020],[-.045,.9950],[-.043,1.0050],[-.041,.9985],[-.039,1.0095],[-.037,.9970],[-.035,1.0010],[-.033,.9960],[-.031,1.0040],
[-.028,.9930],[-.026,.9870],[-.024,.9905],[-.022,.9825],[-.020,.9790],[-.018,.9760],[-.016,.9725],[-.014,.9690],[-.0122,.9850],[-.012,.9640],[-.010,.9620],[-.008,.9580],[-.006,.9545],[-.005,.9600],[-.0039,.9470],[-.002,.9520],[-.0008,.9419],[0,.9560],[.0013,.9724],[.002,.9500],[.004,.9540],[.006,.9480],[.0078,.9445],[.008,.9560],[.010,.9600],[.012,.9620],[.014,.9680],[.016,.9700],[.018,.9745],[.020,.9780],[.022,.9820],[.024,.9860],[.026,.9890],[.028,.9925],
[-.027,.9900],[-.023,.9860],[-.019,.9800],[-.015,.9730],[-.011,.9700],[-.007,.9610],[-.003,.9580],[.001,.9600],[.005,.9560],[.009,.9640],[.013,.9650],[.017,.9760],[.021,.9830],[.025,.9880],[.027,.9920],
[.030,.9965],[.032,1.0050],[.034,.9985],[.037,1.0190],[.038,1.0030],[.040,.9950],[.042,1.0070],[.044,.9995],[.046,1.0040],[.048,.9930],[.050,1.0015],[.052,.9975],[.054,1.0060],[.056,.9945],[.058,1.0025],[.060,.9990],[.062,1.0080],[.064,.9960],[.066,1.0035],[.068,.9920],[.070,1.0010],[.072,.9985],[.074,1.0050],[.076,.9940],[.078,1.0020],[.080,.9970],[.082,1.0065],[.084,.9880],[.086,1.0005],[.088,.9950],[.090,1.0040],[.092,.9915],[.094,1.0025],[.096,.9985],[.098,1.0055],[.100,.9945],[.102,1.0010],[.104,.9970],[.106,1.0035],[.108,.9925],[.110,1.0000],[.112,.9960],[.1151,1.0152],[.116,.9990],[.118,1.0045],[.120,.9950],[.122,1.0030],[.124,.9980],[.125,1.0000],
[.031,1.0010],[.033,.9950],[.035,1.0080],[.039,.9985],[.041,1.0030],[.043,.9940],[.045,1.0060],[.047,.9975],[.049,1.0040],[.051,.9955],[.053,1.0090],[.055,.9985],[.057,1.0015],[.059,.9925],[.061,1.0050],[.063,.9990],[.065,1.0020],[.067,.9960],[.069,1.0070],[.071,.9940],[.073,1.0030],[.075,.9990],[.077,1.0060],[.079,.9930],[.081,1.0015],[.083,.9975],[.085,1.0050],[.087,.9945],[.089,1.0025],[.091,.9990],[.093,1.0070],[.095,.9955],[.097,1.0010],[.099,.9975],[.101,1.0045],[.103,.9925],[.105,1.0020],[.107,.9985],[.109,1.0060],[.111,.9950],[.113,1.0030],[.117,.9970],[.119,1.0015],[.121,.9935],[.123,1.0050]];

// ---------- panel 13 : TOI-6022 ----------
const p13_model=[[-.125,1],[-.036,1],[-.032,.997],[-.028,.990],[-.024,.978],[-.020,.962],[-.016,.947],[-.012,.933],[-.008,.922],[-.004,.914],[0,.911],[.004,.914],[.008,.922],[.012,.933],[.016,.947],[.020,.962],[.024,.978],[.028,.990],[.032,.997],[.036,1],[.125,1]];
const p13_s16=[[-.122,1.005],[-.115,.995],[-.108,1.012],[-.101,.998],[-.094,1.006],[-.085,1.024],[-.080,.992],[-.073,1.008],[-.066,.996],[-.059,1.015],[-.052,.990],[-.045,1.004],[-.038,.998],[-.031,.985],[-.024,.965],[-.017,.950],[-.010,.930],[-.004,.918],[-.0015,.862],[.003,.925],[.008,.930],[.014,.948],[.020,.968],[.027,.985],[.034,.998],[.041,1.010],[.048,1.020],[.055,.995],[.062,1.012],[.069,1.000],[.074,1.027],[.080,1.008],[.085,1.034],[.091,.996],[.098,1.015],[.105,1.002],[.112,1.018],[.119,.994],[.124,1.010]];
const p13_s17=[[-.124,.998],[-.118,1.008],[-.111,.990],[-.104,1.004],[-.097,.995],[-.090,1.010],[-.083,.988],[-.076,1.002],[-.069,.994],[-.062,1.006],[-.055,.985],[-.048,.998],[-.041,1.003],[-.034,.990],[-.027,.975],[-.020,.955],[-.013,.935],[-.007,.920],[-.001,.915],[.0005,.895],[.006,.912],[.012,.935],[.018,.958],[.025,.978],[.032,.992],[.039,1.000],[.046,.996],[.053,1.006],[.060,.990],[.067,1.004],[.074,.998],[.081,1.010],[.088,.992],[.095,1.003],[.102,.995],[.109,1.008],[.116,.998],[.123,1.004]];
const p13_s24=[[-.125,1.002],[-.119,.994],[-.112,1.006],[-.105,.992],[-.098,1.000],[-.091,.996],[-.084,1.008],[-.077,.990],[-.070,1.003],[-.063,.997],[-.056,1.005],[-.049,.993],[-.042,.999],[-.035,.988],[-.028,.972],[-.021,.958],[-.014,.940],[-.008,.925],[-.003,.912],[.002,.915],[.007,.920],[.013,.938],[.019,.955],[.026,.975],[.033,.990],[.040,.996],[.047,1.003],[.054,.992],[.061,1.000],[.068,.995],[.075,1.005],[.082,.990],[.089,.998],[.096,1.004],[.103,.992],[.110,1.000],[.117,.996],[.124,1.002]];

// ---------- styles ----------
const GREY="#4a4a4a", BLUE="#4C72B0", ORANGE="#E8874E", GREEN="#55A868", RED="#C44E52", PURPLE="#8172B3", BROWN="#937860", PINK="#DA8BC3", LGREY="#8C8C8C", OLIVE="#CCB974";
const MRED="#d1464b", MBLACK="#222222";

const panels=[
 {frame:[48,12,406,228],x:[-.1375,.1375],y:[.9301,1.0092],yt:[.94,.95,.96,.97,.98,.99,1],yf:".2f",mc:MRED,model:p1_model,leg:"ll",
  series:[{label:"TESS Sector 17",color:GREY,data:p1_s17,err:.0014}]},
 {frame:[444,13,801,228],x:[-.139,.141],y:[.8936,1.0216],yt:[.90,.92,.94,.96,.98,1,1.02],yf:".2f",mc:MBLACK,model:p2_model,leg:"ll",
  series:[{label:"TESS Sector 15",color:BLUE,data:p2_s15,err:.004},{label:"TESS Sector 16",color:ORANGE,data:p2_s16,err:.004}]},
 {frame:[842,12,1205,230],x:[-.142,.141],y:[.9396,1.0151],yt:[.94,.95,.96,.97,.98,.99,1,1.01],yf:".2f",mc:MRED,model:p3_model,leg:"ul",
  series:[{label:"TESS Sector 17",color:GREY,data:p3_s17,err:.0055}]},
 {frame:[49,272,411,492],x:[-.137,.1375],y:[.9595,1.0125],yt:[.96,.97,.98,.99,1,1.01],yf:".2f",mc:MBLACK,model:p4_model,leg:"ll",
  series:[{label:"TESS Sector 33",color:BLUE,data:p4_s33,err:.0022},{label:"TESS Sector 6",color:ORANGE,data:p4_s6,err:.0018}]},
 {frame:[444,272,801,488],x:[-.159,.138],y:[.9652,1.0141],yt:[.97,.98,.99,1,1.01],yf:".2f",xt:xTicksWide,mc:MRED,model:p5_model,leg:"ur",
  series:[{label:"TESS Sector 51",color:GREY,data:p5_s51,err:.0035}]},
 {frame:[842,272,1205,492],x:[-.142,.141],y:[.9288,1.041],yt:[.94,.96,.98,1,1.02,1.04],yf:".2f",mc:MBLACK,model:p6_model,leg:"ll",
  series:[{label:"TESS Sector 25",color:BLUE,data:p6_s25,err:.007},{label:"TESS Sector 51",color:ORANGE,data:p6_s51,err:.011},{label:"TESS Sector 52",color:GREEN,data:p6_s52,err:.010}]},
 {frame:[43,533,402,752],x:[-.14,.136],y:[.641,1.1],yt:[.7,.8,.9,1,1.1],yf:".1f",mc:MBLACK,model:p7_model,leg:"ll",
  series:[{label:"TESS Sector 3",color:BLUE,data:p7_s3,err:.011},{label:"TESS Sector 30",color:ORANGE,data:p7_s30,err:.011},{label:"TESS Sector 4",color:GREEN,data:p7_s4,err:.010}]},
 {frame:[438,532,799,750],x:[-.1417,.1425],y:[.928,1.0358],yt:[.94,.96,.98,1,1.02],yf:".2f",mc:MRED,model:p8_model,leg:"ur",
  series:[{label:"TESS Sector 51",color:GREY,data:p8_s51,err:.008}]},
 {frame:[835,533,1198,752],x:[-.139,.138],y:[.889,1.0662],yt:[.90,.92,.94,.96,.98,1,1.02,1.04,1.06],yf:".2f",mc:MBLACK,model:p9_model,leg:"l3",
  series:[{label:"TESS Sector 15",color:BLUE,data:p9_s15,err:.013},{label:"TESS Sector 16",color:ORANGE,data:p9_s16,err:.013},{label:"TESS Sector 21",color:GREEN,data:p9_s21,err:.013},
          {label:"TESS Sector 22",color:RED,data:p9_s22,err:.013},{label:"TESS Sector 23",color:PURPLE,data:p9_s23,err:.013},{label:"TESS Sector 41",color:BROWN,data:p9_s41,err:.013},
          {label:"TESS Sector 48",color:PINK,data:p9_s48,err:.013},{label:"TESS Sector 49",color:LGREY,data:p9_s49,err:.013},{label:"TESS Sector 50",color:OLIVE,data:p9_s50,err:.013}]},
 {frame:[42,792,398,1007],x:[-.136,.1346],y:[.7866,1.0324],yt:[.80,.85,.90,.95,1],yf:".2f",mc:MRED,model:p10_model,leg:"ll",
  series:[{label:"TESS Sector 51",color:GREY,data:p10_s51,err:.006}]},
 {frame:[443,790,795,1003],x:[-.1357,.133],y:[.8194,1.0292],yt:[.825,.85,.875,.9,.925,.95,.975,1,1.025],yf:".3f",mc:MBLACK,model:p11_model,leg:"ll",
  series:[{label:"TESS Sector 10",color:BLUE,data:p11_s10,err:.0035},{label:"TESS Sector 37",color:ORANGE,data:p11_s37,err:.0035}]},
 {frame:[842,788,1198,1003],x:[-.1368,.14],y:[.9182,1.0293],yt:[.92,.94,.96,.98,1,1.02],yf:".2f",mc:MBLACK,model:p12_model,leg:"ll",
  series:[{label:"TESS Sector 14",color:BLUE,data:p12_s14,err:.005},{label:"TESS Sector 55",color:ORANGE,data:p12_s55,err:.006}]},
 {frame:[52,1048,405,1268],x:[-.134,.1377],y:[.8434,1.0497],yt:[.85,.875,.9,.925,.95,.975,1,1.025],yf:".3f",mc:MBLACK,model:p13_model,leg:"ll",frameColor:"#333",
  series:[{label:"TESS Sector 16",color:BLUE,data:p13_s16,err:.008},{label:"TESS Sector 17",color:ORANGE,data:p13_s17,err:.008},{label:"TESS Sector 24",color:GREEN,data:p13_s24,err:.008}]}
];

const root=document.getElementById("root");
function el(tag,cls,html){const e=document.createElement(tag);if(cls)e.className=cls;if(html!=null)e.innerHTML=html;return e;}
function swatch(color){
  return `<svg width="13" height="13" viewBox="0 0 13 13"><circle cx="6.5" cy="6.5" r="6.3" fill="${color}" fill-opacity="0.7"/><line x1="6.5" x2="6.5" y1="0" y2="13" stroke="${color}" stroke-width="1.6"/></svg>`;
}
const TS="\u2009";

panels.forEach((p,i)=>{
  const [x0,y0,x1,y1]=p.frame, fw=x1-x0, fh=y1-y0;
  const ml=60, mr=6, mt=4, mb=24;
  const marks=[];
  p.series.forEach(s=>{
    const rows=s.data.map(([t,f])=>({t,f,lo:f-s.err,hi:f+s.err}));
    marks.push(Plot.ruleX(rows,{x:"t",y1:"lo",y2:"hi",stroke:s.color,strokeOpacity:0.4,strokeWidth:1.2}));
    marks.push(Plot.dot(rows,{x:"t",y:"f",r:3.4,fill:s.color,fillOpacity:s.color===GREY?0.66:0.72}));
  });
  marks.push(Plot.line(p.model,{x:d=>d[0],y:d=>d[1],stroke:p.mc,strokeWidth:2,curve:"monotone-x"}));
  marks.push(Plot.frame({stroke:p.frameColor||"#c4c4c4",strokeWidth:1.2}));
  const svg=Plot.plot({
    width:fw+ml+mr,height:fh+mt+mb,marginLeft:ml,marginRight:mr,marginTop:mt,marginBottom:mb,
    style:{fontFamily:"Liberation Serif",fontSize:"11.5px",color:"#222",background:"transparent",overflow:"visible"},
    x:{domain:p.x,ticks:p.xt||xTicks,tickSize:0,tickPadding:1,tickFormat:d3.format(".2f"),label:null},
    y:{domain:p.y,ticks:p.yt,tickSize:0,tickPadding:3,tickFormat:d3.format(p.yf),label:null},
    marks
  });
  svg.style.position="absolute";svg.style.left=(x0-ml)+"px";svg.style.top=(y0-mt)+"px";
  root.appendChild(svg);

  const eq=`${TS}=${TS}`;
  const t=el("div","title",`<b>${names[i]},</b> <i>P</i>${eq}${periods[i]} <b>days,</b> <i>R<sub>p</sub></i>${eq}${radii[i]}${TS}R<sub>⊕</sub><b>,</b> <i>b</i>${eq}${impacts[i]}<b>,</b> <i>R<sub>p</sub></i>/<i>R</i><sub>★</sub>${eq}${ratios[i]}`);
  t.style.left=((x0+x1)/2)+"px";t.style.top=Math.max(1,y0-13)+"px";
  root.appendChild(t);

  const xl=el("div","xlab","Days from Mid-transit");
  xl.style.left=((x0+x1)/2)+"px";xl.style.top=(y1+18)+"px";root.appendChild(xl);
  const yoff=p.yf===".3f"?36:(p.yf===".1f"?23:28);
  const yl=el("div","ylab","Normalized Flux");
  yl.style.left=(x0-yoff)+"px";yl.style.top=((y0+y1)/2)+"px";root.appendChild(yl);

  const lg=el("div","legend");
  const rows=p.series.map(s=>`<div class="row">${swatch(s.color)}<span>${s.label}</span></div>`).join("");
  if(p.leg==="l3"){
    lg.innerHTML=`<div class="grid" style="grid-template-rows:repeat(3,14px)">${rows}</div>`;
  } else lg.innerHTML=rows;
  if(p.leg==="ll"||p.leg==="l3"){lg.style.left=(x0+6)+"px";lg.style.bottom=(1294-(y1-5))+"px";}
  if(p.leg==="ul"){lg.style.left=(x0+5)+"px";lg.style.top=(y0+5)+"px";}
  if(p.leg==="ur"){lg.style.right=(1221-(x1-5))+"px";lg.style.top=(y0+4)+"px";}
  root.appendChild(lg);
});
</script></body></html>
